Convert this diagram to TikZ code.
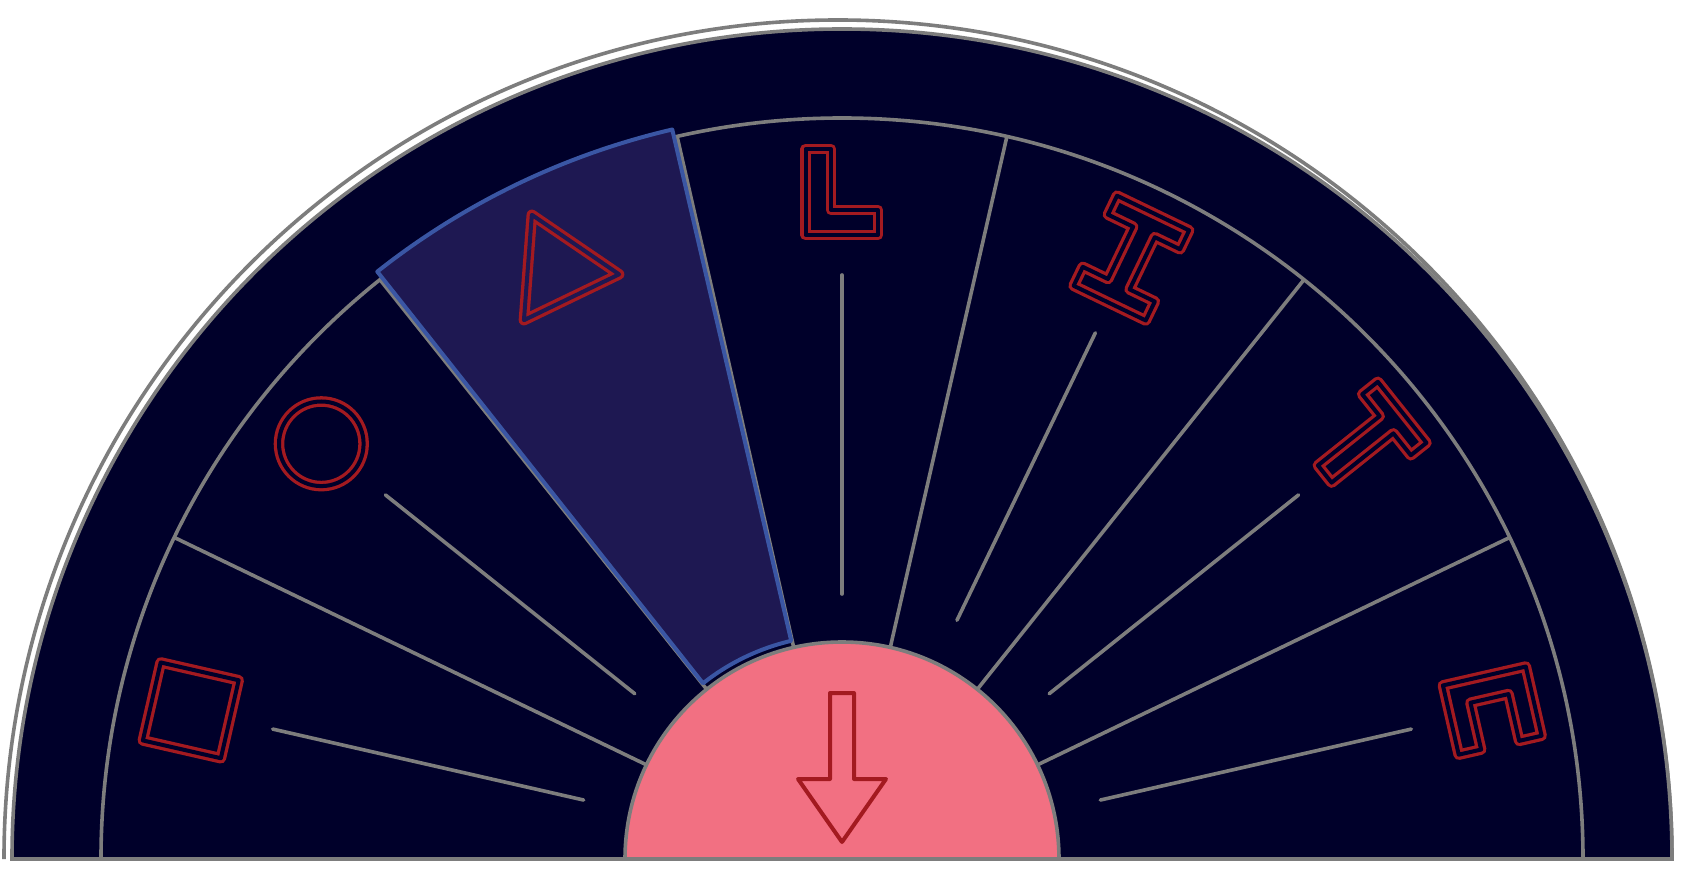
\documentclass[tikz,border=0pt]{standalone}
\usepackage{tikz}
\definecolor{navy}{RGB}{0,0,42}
\definecolor{hlfill}{RGB}{30,24,82}
\definecolor{hlblue}{RGB}{58,86,164}
\definecolor{rimgray}{RGB}{125,125,125}
\definecolor{pinkfill}{RGB}{242,112,130}
\definecolor{glyphred}{RGB}{163,26,32}
\begin{document}
\begin{tikzpicture}[x=0.5pt,y=0.5pt,
    rim/.style={draw=rimgray,line width=1.8pt},
    glyph/.style={draw=glyphred,double=navy,double distance=2pt,line width=1.65pt,line join=round}]
    \useasboundingbox[fill=white] (-842,-9) rectangle (842,859);
    \coordinate (o) at (0,0);
    % outer rim
    \draw[rim] (830,0) arc[start angle=0,end angle=180,x radius=834,y radius=839];
    \filldraw[fill=navy,rim] (830,0) arc (0:180:830) -- cycle;
    \draw[rim] (741,0) arc (0:180:741);
    \foreach \k in {1,...,6}{\draw[rim] ({\k*180/7}:217) -- ({\k*180/7}:741);}
    \foreach \k in {0,1,2,3,5,6}{\draw[rim,line cap=round] ({(\k+0.5)*180/7}:265) -- ({(\k+0.5)*180/7}:584);}
    % selected slice
    \filldraw[fill=hlfill,draw=hlblue,line width=2pt,line join=round]
        (103.1:224) -- (103.1:749) arc (103.1:128.35:749) -- (128.35:224) arc (128.35:103.1:224) -- cycle;
    % centre
    \filldraw[fill=pinkfill,rim] (217,0) arc (0:180:217) -- cycle;
    \draw[glyphred,line width=2pt,line join=round] (-12,166) -- (12,166) -- (12,80) -- (44,80) -- (0,17) -- (-44,80) -- (-12,80) -- cycle;
    % glyphs
    \begin{scope}[shift={(12.857:667)},rotate=-77.14]
        \draw[glyph] (-35.5,42.5) -- (35.5,42.5) -- (35.5,19.5) -- (-12.5,19.5) -- (-12.5,-19.5) -- (35.5,-19.5) -- (35.5,-42.5) -- (-35.5,-42.5) -- cycle;
    \end{scope}
    \begin{scope}[shift={(38.571:667)},rotate=-51.43]
        \draw[glyph] (-39,49.5) -- (39,49.5) -- (39,29.5) -- (11,29.5) -- (11,-49.5) -- (-11,-49.5) -- (-11,29.5) -- (-39,29.5) -- cycle;
    \end{scope}
    \begin{scope}[shift={(64.286:667)},rotate=-25.71]
        \draw[glyph] (-40,50) -- (40,50) -- (40,29) -- (12,29) -- (12,-29) -- (40,-29) -- (40,-50) -- (-40,-50) -- (-40,-29) -- (-12,-29) -- (-12,29) -- (-40,29) -- cycle;
    \end{scope}
    \begin{scope}[shift={(90:667)}]
        \draw[glyph] (-36.5,43) -- (-11,43) -- (-11,-18) -- (36,-18) -- (36,-43) -- (-36.5,-43) -- cycle;
    \end{scope}
    \begin{scope}[shift={(115.71:654)},rotate=25.71]
        \draw[glyph,double=hlfill] (90:61) -- (210:61) -- (330:61) -- cycle;
    \end{scope}
    \draw[glyph] (141.43:666) circle (42.3);
    \begin{scope}[shift={(167.14:668)},rotate=77.14]
        \draw[glyph] (-40,-40) rectangle (40,40);
    \end{scope}
\end{tikzpicture}
\end{document}
